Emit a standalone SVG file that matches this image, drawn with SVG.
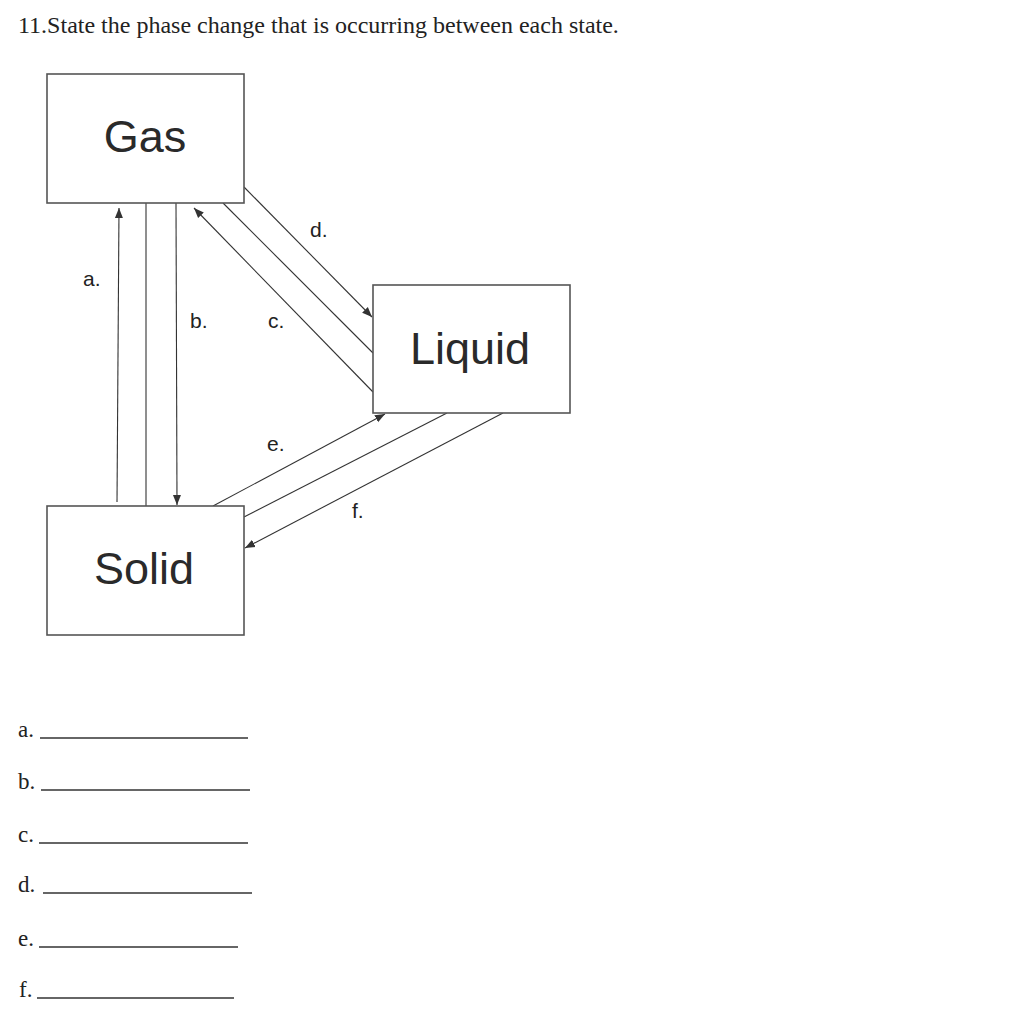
<svg xmlns="http://www.w3.org/2000/svg" width="1015" height="1024" viewBox="0 0 1015 1024">
<defs>
<marker id="ah" markerUnits="userSpaceOnUse" markerWidth="11" markerHeight="9" refX="10" refY="4.5" orient="auto">
<path d="M0,0.5 L10,4.5 L0,8.5 z" fill="#333"/>
</marker>
<style>
.box{fill:#fff;stroke:#555;stroke-width:1.6}
.big{font-family:"Liberation Sans",Arial,sans-serif;font-size:45px;fill:#2a2a2a;text-anchor:middle}
.lbl{font-family:"Liberation Sans",Arial,sans-serif;font-size:21px;fill:#222}
.ser{font-family:"Liberation Serif","Times New Roman",serif;fill:#222}
.ln{stroke:#333;stroke-width:1.1;fill:none}
.arr{stroke:#333;stroke-width:1.1;fill:none;marker-end:url(#ah)}
.ul{stroke:#333;stroke-width:1.3}
</style>
</defs>
<rect width="1015" height="1024" fill="#fff"/>
<text class="ser" x="18" y="33" font-size="24">11.State the phase change that is occurring between each state.</text>

<g id="connectors">
<line class="arr" x1="117" y1="502" x2="119" y2="208"/>
<line class="ln" x1="146" y1="203" x2="146" y2="506"/>
<line class="arr" x1="176" y1="203" x2="177" y2="505"/>
<line class="arr" x1="373" y1="392" x2="194" y2="208"/>
<line class="ln" x1="223" y1="203" x2="373" y2="353"/>
<line class="arr" x1="244" y1="187" x2="372" y2="317"/>
<line class="arr" x1="213" y1="506" x2="385" y2="414"/>
<line class="ln" x1="447" y1="413" x2="244" y2="517"/>
<line class="arr" x1="503" y1="413" x2="245" y2="548"/>
<text class="lbl" x="83" y="286">a.</text>
<text class="lbl" x="190" y="328">b.</text>
<text class="lbl" x="268" y="328">c.</text>
<text class="lbl" x="310" y="237">d.</text>
<text class="lbl" x="267" y="451">e.</text>
<text class="lbl" x="352" y="518">f.</text>
</g>

<g id="gas">
<rect class="box" x="47" y="74" width="197" height="129"/>
<text class="big" x="145" y="152">Gas</text>
</g>
<g id="liquid">
<rect class="box" x="373" y="285" width="197" height="128"/>
<text class="big" x="470" y="364">Liquid</text>
</g>
<g id="solid">
<rect class="box" x="47" y="506" width="197" height="129"/>
<text class="big" x="144" y="584">Solid</text>
</g>

<g id="answers">
<text class="ser" x="18" y="737" font-size="23">a.</text>
<line class="ul" x1="40" y1="738" x2="248" y2="738"/>
<text class="ser" x="18" y="789" font-size="23">b.</text>
<line class="ul" x1="41" y1="790" x2="250" y2="790"/>
<text class="ser" x="18" y="842" font-size="23">c.</text>
<line class="ul" x1="39" y1="843" x2="248" y2="843"/>
<text class="ser" x="18" y="892" font-size="23">d.</text>
<line class="ul" x1="43" y1="893" x2="252" y2="893"/>
<text class="ser" x="18" y="946" font-size="23">e.</text>
<line class="ul" x1="39" y1="947" x2="238" y2="947"/>
<text class="ser" x="19" y="997" font-size="23">f.</text>
<line class="ul" x1="37" y1="998" x2="234" y2="998"/>
</g>
</svg>
